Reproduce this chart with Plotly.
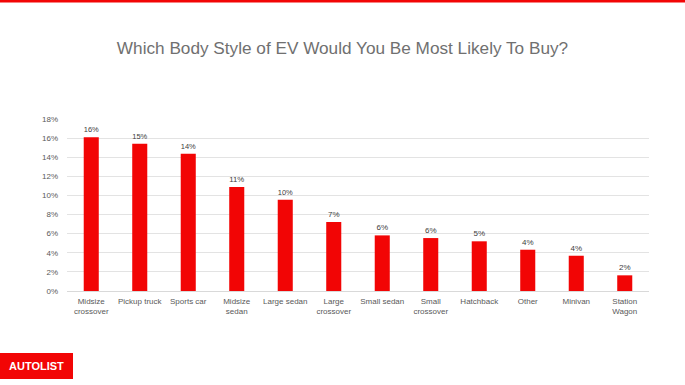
import plotly.graph_objects as go

categories = ["Midsize<br>crossover", "Pickup truck", "Sports car", "Midsize<br>sedan",
              "Large sedan", "Large<br>crossover", "Small sedan", "Small<br>crossover",
              "Hatchback", "Other", "Minivan", "Station<br>Wagon"]
shares = [0.1608, 0.154, 0.1436, 0.1088, 0.0955, 0.0722, 0.0582, 0.0554, 0.052, 0.0432, 0.0369, 0.0164]
y_ticks = [0, 0.02, 0.04, 0.06, 0.08, 0.10, 0.12, 0.14, 0.16, 0.18]

fig = go.Figure(go.Bar(
    x=categories, y=shares,
    marker=dict(color="#F20505", line=dict(width=0)),
    texttemplate="%{y:.0%}", textposition="outside", cliponaxis=False,
    textfont=dict(family="Liberation Sans, Arial", size=8, color="#404040"),
    hoverinfo="skip",
))

L, R, T, B = 67, 649, 119, 291
def px(x): return (x - L) / (R - L)
def py(y): return (B - y) / (B - T)

fig.update_layout(
    width=685, height=385,
    margin=dict(l=L, r=685 - R, t=T, b=385 - B),
    paper_bgcolor="white", plot_bgcolor="white",
    bargap=0.69, showlegend=False,
    title=dict(text="Which Body Style of EV Would You Be Most Likely To Buy?",
               x=0.5, xanchor="center", y=1 - 48 / 385, yanchor="middle",
               font=dict(family="Liberation Sans, Arial", size=17.2, color="#707070")),
    font=dict(family="Liberation Sans, Arial", size=8, color="#595959"),
    xaxis=dict(showgrid=False, showline=True, linecolor="#d9d9d9", linewidth=1,
               ticks="", ticklabelstandoff=2, tickfont=dict(size=8, color="#595959")),
    yaxis=dict(range=[0, 0.18], tickvals=y_ticks, tickformat=".0%",
               showgrid=True, gridcolor="#e3e3e3", gridwidth=1, zeroline=False,
               showline=False, ticks="", ticklabelstandoff=8,
               tickfont=dict(size=8, color="#595959")),
    shapes=[
        dict(type="rect", xref="paper", yref="paper", x0=px(0), x1=px(685),
             y0=py(2.6), y1=py(0), fillcolor="#F20505", line=dict(width=0), layer="above"),
        dict(type="rect", xref="paper", yref="paper", x0=px(0), x1=px(73),
             y0=py(379), y1=py(353), fillcolor="#F20505", line=dict(width=0), layer="above"),
    ],
    annotations=[
        dict(text="<b>AUTOLIST</b>", xref="paper", yref="paper", x=px(36.5), y=py(366),
             xanchor="center", yanchor="middle", showarrow=False,
             font=dict(family="Liberation Sans, Arial", size=11, color="white")),
    ],
)

fig.write_html("out.html", config={"displayModeBar": False},
               post_script="document.body.style.margin='0';document.body.style.overflow='hidden';")
